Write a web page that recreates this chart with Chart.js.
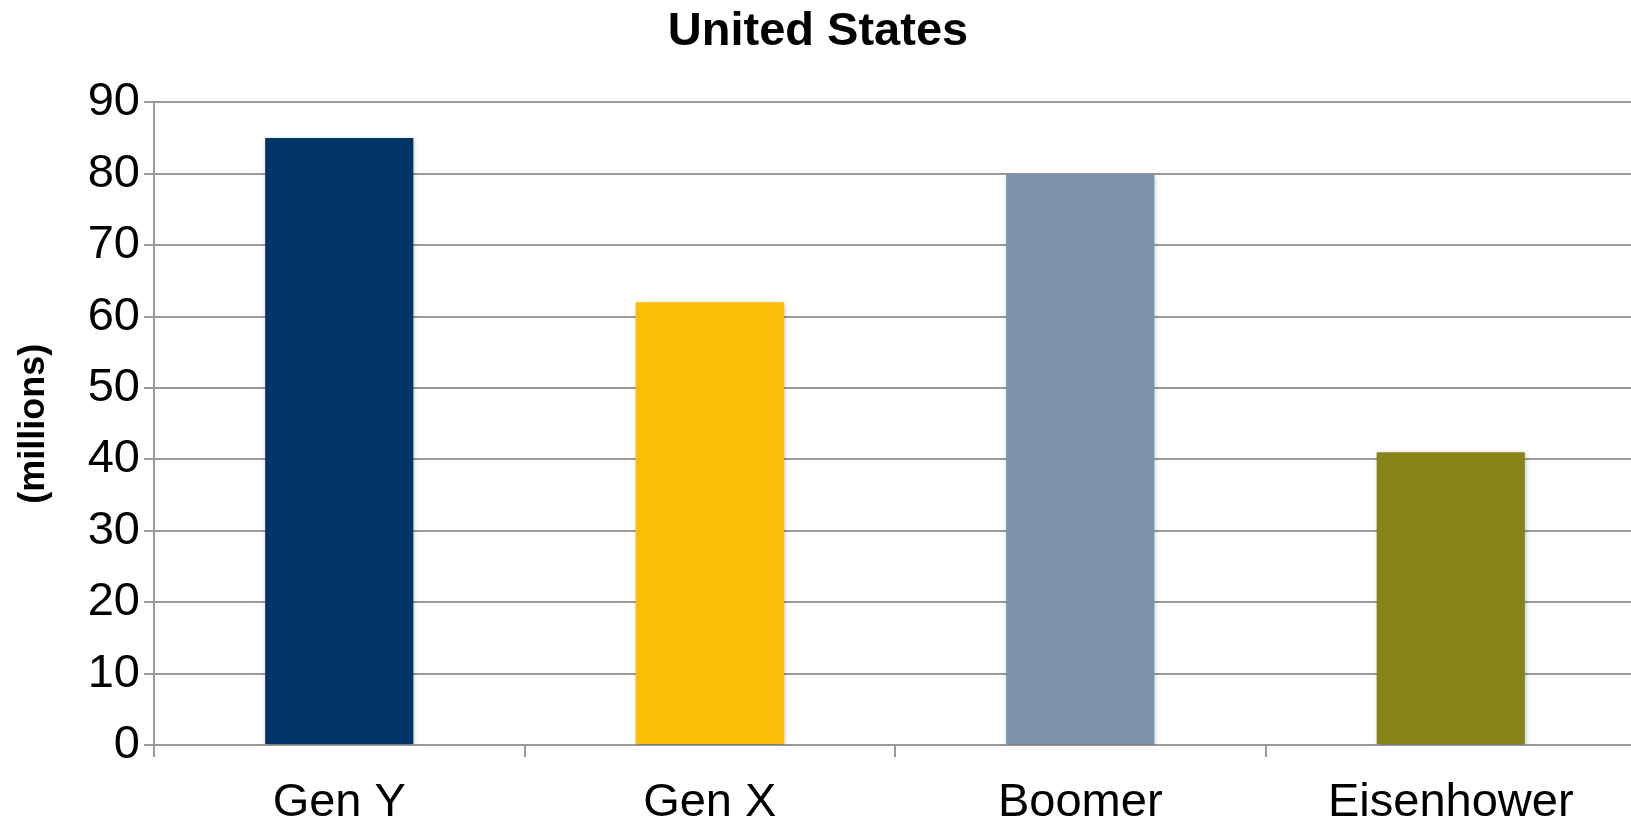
<!DOCTYPE html>
<html>
<head>
<meta charset="utf-8">
<title>United States</title>
<script src="https://cdn.jsdelivr.net/npm/chart.js@4/dist/chart.umd.min.js"></script>
<style>
    html, body { margin: 0; padding: 0; background: #fff; overflow: hidden; }
    #wrap { width: 1631px; height: 826px; overflow: hidden; }
</style>
</head>
<body>
<div id="wrap"><canvas id="gens" width="1636" height="826"></canvas></div>
<script>
// population by generation (millions)
const generations = ["Gen Y", "Gen X", "Boomer", "Eisenhower"];
const population = [85, 62, 80, 41];
const barColors = ["#003466", "#F9BE05", "#7B92AB", "#878316"];

const fontFamily = "'Liberation Sans', Arial, sans-serif";
const gridColor = "#999999";

// soft drop shadow under the bars
const barShadow = {
    id: "barShadow",
    beforeDatasetsDraw(chart) {
        const ctx = chart.ctx;
        ctx.save();
        ctx.shadowColor = "rgba(0,0,0,0.28)";
        ctx.shadowBlur = 5;
        ctx.shadowOffsetX = 1;
        ctx.shadowOffsetY = 2;
    },
    afterDatasetsDraw(chart) {
        chart.ctx.restore();
    }
};

const ctx = document.getElementById("gens");
new Chart(ctx, {
    type: "bar",
    data: {
        labels: generations,
        datasets: [{
            data: population,
            backgroundColor: barColors,
            borderWidth: 0,
            categoryPercentage: 1,
            barPercentage: 0.4
        }]
    },
    options: {
        responsive: false,
        devicePixelRatio: 1,
        animation: false,
        layout: { padding: 0 },
        plugins: {
            legend: { display: false },
            tooltip: { enabled: false },
            title: {
                display: true,
                text: "United States",
                color: "#000",
                font: { family: fontFamily, size: 47, weight: "bold" },
                padding: { top: 4, bottom: 42 }
            }
        },
        scales: {
            x: {
                grid: {
                    offset: true,
                    drawOnChartArea: false,
                    drawTicks: true,
                    tickLength: 12,
                    color: gridColor,
                    lineWidth: 2
                },
                border: { display: true, color: gridColor, width: 2 },
                ticks: {
                    color: "#000",
                    font: { family: fontFamily, size: 47 },
                    padding: 18,
                    maxRotation: 0
                },
                afterFit(scale) { scale.height = 81; }
            },
            y: {
                min: 0,
                max: 90,
                grid: {
                    color: gridColor,
                    lineWidth: 2,
                    drawTicks: true,
                    tickLength: 10
                },
                border: { display: true, color: gridColor, width: 2 },
                ticks: {
                    stepSize: 10,
                    color: "#000",
                    font: { family: fontFamily, size: 47 },
                    padding: 4
                },
                title: {
                    display: true,
                    text: "(millions)",
                    color: "#000",
                    font: { family: fontFamily, size: 36, weight: "bold" },
                    padding: { top: 12, bottom: 0 }
                },
                afterFit(scale) { scale.width = 154; }
            }
        }
    },
    plugins: [barShadow]
});
</script>
</body>
</html>
